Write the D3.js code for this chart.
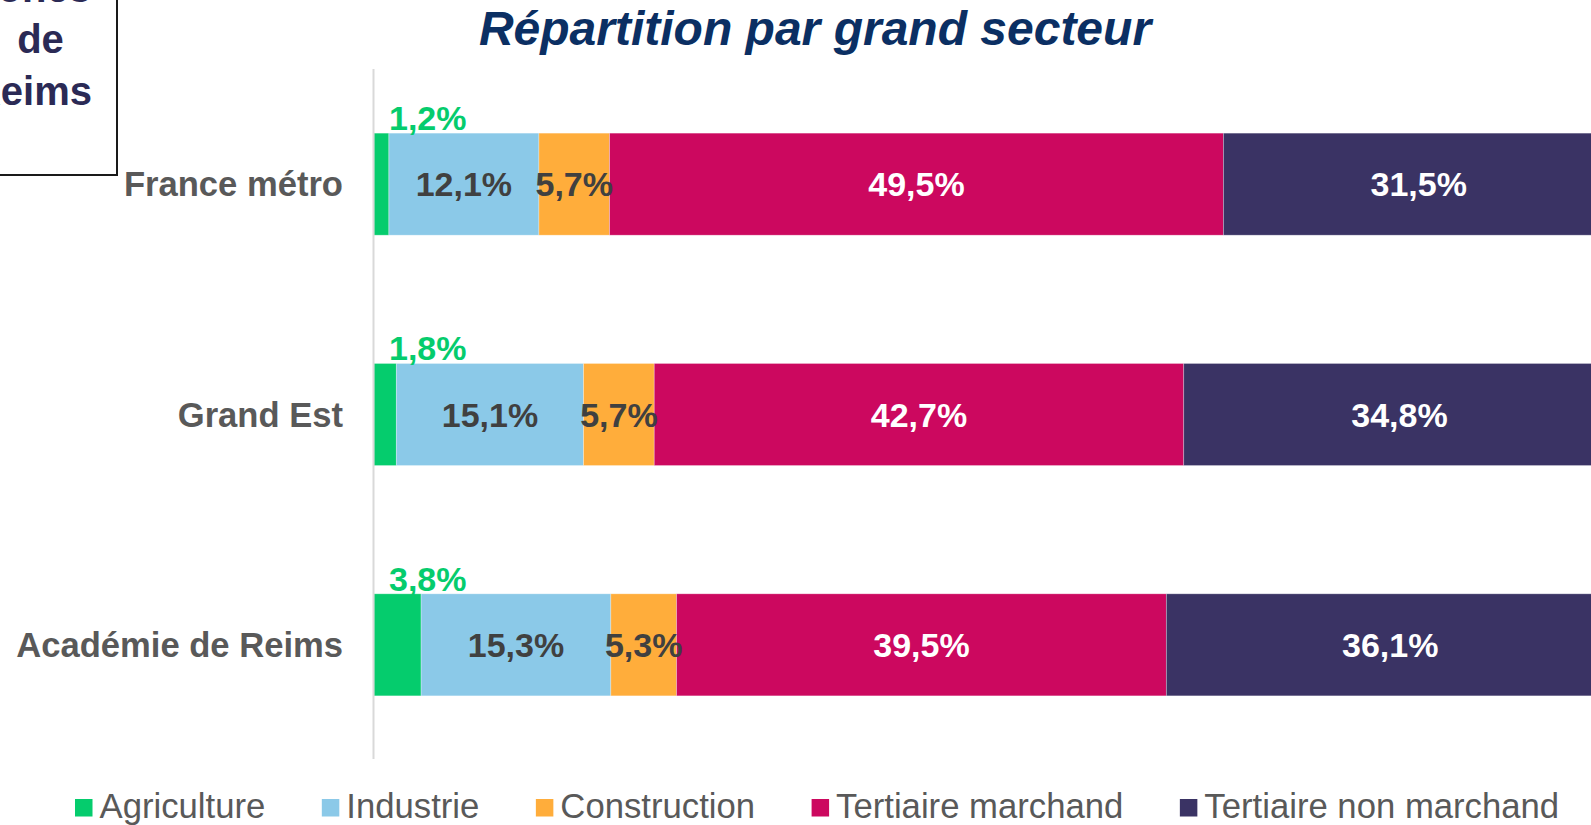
<!DOCTYPE html>
<html>
<head>
<meta charset="utf-8">
<script src="https://cdn.jsdelivr.net/npm/d3@7"></script>
<style>
  body { margin: 0; background: #ffffff; overflow: hidden; }
  svg { display: block; font-family: "Liberation Sans", Arial, sans-serif; }
</style>
</head>
<body>
<div id="chart"></div>
<script>
// chart data
var territories = ["France métro", "Grand Est", "Académie de Reims"];
var sectors = ["Agriculture", "Industrie", "Construction", "Tertiaire marchand", "Tertiaire non marchand"];
var agriculture = [1.2, 1.8, 3.8];
var industrie = [12.1, 15.1, 15.3];
var construction = [5.7, 5.7, 5.3];
var tertiaireMarchand = [49.5, 42.7, 39.5];
var tertiaireNonMarchand = [31.5, 34.8, 36.1];
var sectorColors = ["#05cc6d", "#8bc9e8", "#ffad3b", "#cc085f", "#3a3364"];
var labelColors = ["#05cc6d", "#404040", "#404040", "#ffffff", "#ffffff"];

//define svg area size
var svgWidth = 1591;
var svgHeight = 825;

var svg = d3
    .select("#chart")
    .append("svg")
    .attr("width", svgWidth)
    .attr("height", svgHeight);

// build rows for the stack
var seriesValues = [agriculture, industrie, construction, tertiaireMarchand, tertiaireNonMarchand];
var rows = territories.map(function(t, i) {
    var row = { territory: t };
    sectors.forEach(function(s, k) { row[s] = seriesValues[k][i]; });
    return row;
});

var stacked = d3.stack().keys(sectors)(rows);

// scales (the full 100% runs past the right edge, as in the source)
var xScale = d3.scaleLinear()
    .domain([0, 100])
    .range([374, 1614]);

var yScale = d3.scaleBand()
    .domain(territories)
    .range([69, 760])
    .paddingInner(0.557)
    .paddingOuter(0.2785);

// title
svg.append("text")
    .attr("x", 815)
    .attr("y", 45)
    .attr("text-anchor", "middle")
    .style("font-size", "48px")
    .style("font-weight", "bold")
    .style("font-style", "italic")
    .style("fill", "#0b2f63")
    .text("Répartition par grand secteur");

// boxed note at top left (mostly cut off by the frame)
svg.append("rect")
    .attr("x", -20)
    .attr("y", -20)
    .attr("width", 137)
    .attr("height", 195)
    .attr("fill", "none")
    .attr("stroke", "#1a1a1a")
    .attr("stroke-width", 2);

var boxLines = ["Zones", "de", "Reims"];
var boxX = [32, 40.5, 92];
var boxAnchor = ["middle", "middle", "end"];
svg.append("g").selectAll("text")
    .data(boxLines)
    .enter()
    .append("text")
    .attr("x", (d, i) => boxX[i])
    .attr("y", (d, i) => 1.5 + i * 51.5)
    .attr("text-anchor", (d, i) => boxAnchor[i])
    .style("font-size", "40px")
    .style("font-weight", "bold")
    .style("fill", "#2b2a55")
    .text(d => d);

// bars
var barGroup = svg.append("g");
stacked.forEach(function(layer, k) {
    barGroup.selectAll(null)
        .data(layer)
        .enter()
        .append("rect")
        .attr("x", d => xScale(d[0]))
        .attr("y", d => yScale(d.data.territory))
        .attr("width", d => xScale(d[1]) - xScale(d[0]))
        .attr("height", yScale.bandwidth())
        .attr("fill", sectorColors[k])
        .attr("stroke", "rgba(255,255,255,0.35)")
        .attr("stroke-width", 0.8);
});

// axis line
svg.append("line")
    .attr("x1", xScale(0) - 0.5)
    .attr("x2", xScale(0) - 0.5)
    .attr("y1", 69)
    .attr("y2", 759)
    .attr("stroke", "#d9d9d9")
    .attr("stroke-width", 2);

// category labels
svg.append("g").selectAll("text")
    .data(territories)
    .enter()
    .append("text")
    .attr("x", 343)
    .attr("y", d => yScale(d) + yScale.bandwidth() / 2 + 12)
    .attr("text-anchor", "end")
    .style("font-size", "34.6px")
    .style("font-weight", "bold")
    .style("fill", "#595959")
    .text(d => d);

// value labels
var fmt = v => v.toFixed(1).replace(".", ",") + "%";
stacked.forEach(function(layer, k) {
    var lbl = svg.append("g").selectAll(null)
        .data(layer)
        .enter()
        .append("text")
        .style("font-size", "34px")
        .style("font-weight", "bold")
        .style("fill", labelColors[k])
        .text(d => fmt(d[1] - d[0]));
    if (k === 0) {
        // agriculture: above the bar
        lbl.attr("x", d => xScale(d[0]) + 15)
            .attr("y", d => yScale(d.data.territory) - 3)
            .attr("text-anchor", "start");
    } else {
        lbl.attr("x", d => (xScale(d[0]) + xScale(d[1])) / 2)
            .attr("y", d => yScale(d.data.territory) + yScale.bandwidth() / 2 + 12)
            .attr("text-anchor", "middle");
    }
});

// legend
var legend = svg.append("g");
var lx = 75;
sectors.forEach(function(s, k) {
    legend.append("rect")
        .attr("x", lx)
        .attr("y", 799)
        .attr("width", 17.5)
        .attr("height", 17.5)
        .attr("fill", sectorColors[k]);
    var t = legend.append("text")
        .attr("x", lx + 24.5)
        .attr("y", 818)
        .style("font-size", "34.7px")
        .style("fill", "#595959")
        .text(s);
    lx = lx + 24.5 + t.node().getComputedTextLength() + 56.5;
});
</script>
</body>
</html>
